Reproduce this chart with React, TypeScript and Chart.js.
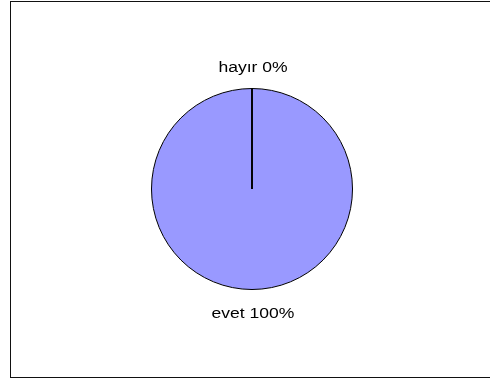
import React, { useEffect, useRef } from "react";
import { Chart, registerables } from "chart.js";

Chart.register(...registerables);

const categories = ["evet", "hayır"];
const values = [100, 0];
const sliceColors = ["#9999FF", "#993366"];

const labelPlugin = {
  id: "sliceLabels",
  afterDatasetsDraw(chart: any) {
    const ctx = chart.ctx;
    const meta = chart.getDatasetMeta(0);
    const data = chart.data.datasets[0].data as number[];
    const total = data.reduce((a, b) => a + b, 0);
    ctx.save();
    meta.data.forEach((arc: any, i: number) => {
      const p = arc.getProps(["x", "y", "startAngle", "endAngle", "outerRadius"], true);
      const mid = (p.startAngle + p.endAngle) / 2;
      if (data[i] === 0) {
        ctx.beginPath();
        ctx.strokeStyle = "#000";
        ctx.lineWidth = 1.8;
        ctx.moveTo(p.x, p.y);
        ctx.lineTo(p.x + Math.cos(p.startAngle) * p.outerRadius, p.y + Math.sin(p.startAngle) * p.outerRadius);
        ctx.stroke();
      }
      const r = p.outerRadius + 22.5;
      const tx = p.x + 1 + Math.cos(mid) * r;
      const ty = p.y + Math.sin(mid) * r;
      const pct = Math.round((data[i] / total) * 100);
      ctx.save();
      ctx.translate(tx, ty + 5.5);
      ctx.scale(1.14, 1);
      ctx.fillStyle = "#000";
      ctx.font = "15.4px 'Liberation Sans', Arial, sans-serif";
      ctx.textAlign = "center";
      ctx.textBaseline = "alphabetic";
      ctx.fillText(`${chart.data.labels[i]} ${pct}%`, 0, 0);
      ctx.restore();
    });
    ctx.restore();
  },
};

export default function App() {
  const ref = useRef<HTMLCanvasElement>(null);
  useEffect(() => {
    const chart = new Chart(ref.current!, {
      type: "pie",
      data: {
        labels: categories,
        datasets: [
          {
            data: values,
            backgroundColor: sliceColors,
            borderColor: "#000",
            borderWidth: 1,
          },
        ],
      },
      options: {
        animation: false,
        responsive: false,
        rotation: 0,
        layout: { padding: { left: 151, right: 137, top: 88, bottom: 89 } },
        plugins: { legend: { display: false }, tooltip: { enabled: false } },
      },
      plugins: [labelPlugin],
    });
    return () => chart.destroy();
  }, []);
  return (
    <div style={{ position: "absolute", left: 0, top: 0, width: 490, height: 379, background: "#fff", overflow: "hidden" }}>
      <canvas ref={ref} width={490} height={379} style={{ position: "absolute", left: 0, top: 0 }} />
      <div
        style={{
          position: "absolute",
          left: 10,
          top: 1,
          width: 500,
          height: 377,
          border: "1.5px solid #111",
          boxSizing: "border-box",
          pointerEvents: "none",
        }}
      />
    </div>
  );
}
